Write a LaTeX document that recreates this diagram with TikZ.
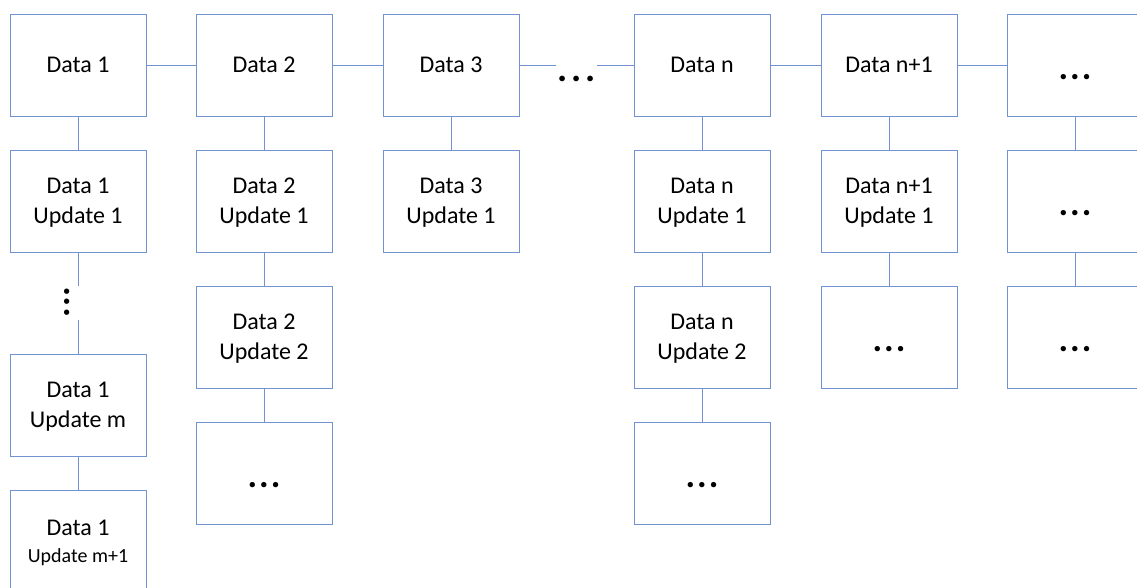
\documentclass[tikz,border=0pt]{standalone}
\usepackage{fontspec}
\setmainfont{Carlito}
\definecolor{edge}{RGB}{114,146,209}
% three bold full stops with adjustable spacing
\newcommand\threedots[1]{\textbf{.\hspace{#1}.\hspace{#1}.}}
\tikzset{
  cell/.style={draw=edge, line width=1pt, minimum width=136pt, minimum height=102pt,
    inner sep=0pt, align=center, text depth=0pt,
    font=\fontsize{24}{30}\selectfont},
  link/.style={draw=edge, line width=1pt},
  gapdots/.style={inner sep=0pt, font=\fontsize{38}{38}\selectfont}
}
\newcommand\celldots{\raisebox{-14pt}[0pt][0pt]{\fontsize{36}{36}\selectfont\threedots{2pt}}}
\begin{document}
\begin{tikzpicture}[x=1pt,y=-1pt]
\useasboundingbox (0,0) rectangle (1137,587);
\clip (0,0) rectangle (1137,587);

% column 1
\node[cell] (a0) at (78,65) {Data 1};
\node[cell] (a1) at (78,201) {Data 1\\Update 1};
\node[cell] (am) at (78,405) {Data 1\\Update m};
\node[cell] (an) at (78,541) {Data 1\\[-3pt]{\fontsize{20}{24}\selectfont Update m+1}};
\coordinate (aup) at (78,286);
\coordinate (adn) at (78,320);
\node[gapdots, rotate=90, font=\fontsize{36}{36}\selectfont] (avd) at (67,302) {\threedots{1pt}};

% column 2
\node[cell] (b0) at (264,65) {Data 2};
\node[cell] (b1) at (264,201) {Data 2\\Update 1};
\node[cell] (b2) at (264,337) {Data 2\\Update 2};
\node[cell] (b3) at (264,473) {\celldots};

% column 3
\node[cell] (c0) at (451,65) {Data 3};
\node[cell] (c1) at (451,201) {Data 3\\Update 1};

% gap between column 3 and column n
\coordinate (gl) at (556,65);
\coordinate (gr) at (597,65);
\node[gapdots] (gd) at (576.5,79) {\threedots{3.5pt}};

% column n
\node[cell] (n0) at (702,65) {Data n};
\node[cell] (n1) at (702,201) {Data n\\Update 1};
\node[cell] (n2) at (702,337) {Data n\\Update 2};
\node[cell] (n3) at (702,473) {\celldots};

% column n+1
\node[cell] (p0) at (889,65) {Data n+1};
\node[cell] (p1) at (889,201) {Data n+1\\Update 1};
\node[cell] (p2) at (889,337) {\celldots};

% last column
\node[cell] (q0) at (1075,65) {\celldots};
\node[cell] (q1) at (1075,201) {\celldots};
\node[cell] (q2) at (1075,337) {\celldots};

% horizontal links
\draw[link] (a0) -- (b0);
\draw[link] (b0) -- (c0);
\draw[link] (c0.east) -- (gl);
\draw[link] (gr) -- (n0.west);
\draw[link] (n0) -- (p0);
\draw[link] (p0) -- (q0);

% vertical links
\draw[link] (a0) -- (a1);
\draw[link] (a1.south) -- (aup);
\draw[link] (adn) -- (am.north);
\draw[link] (am) -- (an);
\draw[link] (b0) -- (b1);
\draw[link] (b1) -- (b2);
\draw[link] (b2) -- (b3);
\draw[link] (c0) -- (c1);
\draw[link] (n0) -- (n1);
\draw[link] (n1) -- (n2);
\draw[link] (n2) -- (n3);
\draw[link] (p0) -- (p1);
\draw[link] (p1) -- (p2);
\draw[link] (q0) -- (q1);
\draw[link] (q1) -- (q2);
\end{tikzpicture}
\end{document}
